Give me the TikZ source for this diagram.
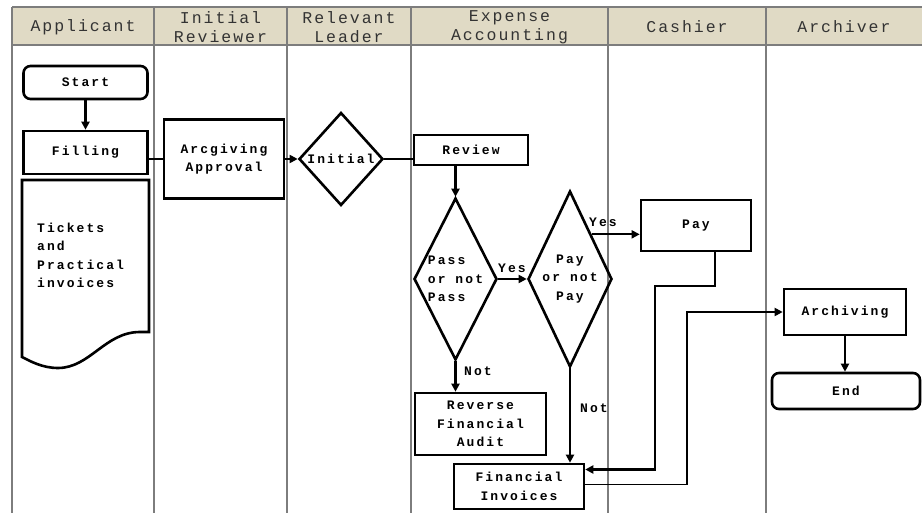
\documentclass[tikz,border=0pt]{standalone}
\usepackage{fontspec}
\usetikzlibrary{shapes.geometric,arrows.meta}
\newfontfamily\lanefont[LetterSpace=12]{Liberation Mono}
\newfontfamily\boxfont[LetterSpace=16]{Liberation Mono}
\definecolor{headtan}{RGB}{224,218,197}
\definecolor{lanegray}{RGB}{125,125,125}

\begin{document}
\begin{tikzpicture}[x=1pt,y=-1pt,
  >={Triangle[length=8pt,width=8pt]},
  lane/.style={draw=lanegray,line width=1.6pt},
  lanetitle/.style={font=\lanefont\fontsize{16.5}{19}\selectfont,text=black!80,align=center},
  boxtext/.style={font=\boxfont\bfseries\fontsize{13}{18.5}\selectfont,align=center,inner sep=0pt},
  box/.style={boxtext,draw,line width=2.6pt},
  term/.style={box,rounded corners=7pt},
  choice/.style={draw,diamond,line width=2.6pt,inner sep=0pt},
  flow/.style={line width=2.6pt,->},
  thin/.style={line width=1.8pt},
  tag/.style={boxtext}]
\useasboundingbox (0,0) rectangle (922,513);

% swimlanes
\fill[headtan] (12,7) rectangle (922,45);
\draw[lane] (12,7) -- (922,7) (12,45) -- (922,45);
\foreach \x in {12,154,287,411,608,766}
  \draw[lane] (\x,7) -- (\x,513);
\node[lanetitle] (tapp) at (83,27) {Applicant};
\node[lanetitle] (trev) at (220.5,27) {Initial\\Reviewer};
\node[lanetitle] (tlead) at (349,27) {Relevant\\Leader};
\node[lanetitle] (tacc) at (509.5,27) {Expense\\Accounting};
\node[lanetitle] (tcash) at (687,27) {Cashier};
\node[lanetitle] (tarch) at (844,27) {Archiver};

% applicant
\node[term, minimum width=124, minimum height=33] (start) at (85.5,82.5) {Start};
\node[box, minimum width=124, minimum height=43] (fill) at (85.5,152.5) {Filling};
\draw[line width=2.6pt] (22,180) -- (149,180) -- (149,332) -- (140,332)
  .. controls (105,332) and (90,368) .. (58,368)
  .. controls (42,368) and (30,361) .. (22,357) -- cycle;
\node[boxtext, align=left, anchor=west] (tick) at (37,255.5) {Tickets\\and\\Practical\\invoices};

% reviewer and leader
\node[box, minimum width=120, minimum height=79] (arcg) at (224,159) {Arcgiving\\Approval};
\node[choice, minimum width=84, minimum height=93] (init) at (341,159) {};
\node[boxtext] (tinit) at (init) {Initial};

% accounting
\node[box, minimum width=114, minimum height=30] (review) at (471,150) {Review};
\node[choice, minimum width=83, minimum height=162] (pass) at (455.5,279) {};
\node[boxtext, align=left] (tpass) at (pass) {Pass\\or not\\Pass};
\node[choice, minimum width=84, minimum height=176] (paydec) at (570,279) {};
\node[boxtext] (tpaydec) at (paydec) {Pay\\or not\\Pay};
\node[box, minimum width=131, minimum height=62] (reverse) at (480.5,424) {Reverse\\Financial\\Audit};
\node[box, minimum width=130, minimum height=45] (fininv) at (519,486.5) {Financial\\Invoices};

% cashier and archiver
\node[box, minimum width=110, minimum height=51] (pay) at (696,225.5) {Pay};
\node[box, minimum width=122, minimum height=46] (arch) at (845,312) {Archiving};
\node[term, minimum width=148, minimum height=36] (end) at (846,391) {End};

\coordinate (bendA) at (655,286);
\coordinate (bendB) at (687,312);

\draw[flow] (start) -- (fill);
\draw[thin] (fill.east |- arcg.west) -- (arcg.west);
\draw[thin,->] (arcg.east) -- (init.west);
\draw[thin] (init.east) -- (init.east -| review.west);
\draw[flow] (review.south -| pass.north) -- (pass.north);
\draw[thin,->] (pass.east) -- (paydec.west);
\node[tag] (yes1) at (512,268) {Yes};
\draw[thin,->] (paydec.north east) -- (paydec.north east -| pay.west);
\node[tag] (yes2) at (603,222) {Yes};
\draw[flow] (pass.south) -- (pass.south |- reverse.north);
\node[tag] (not1) at (478,371) {Not};
\draw[flow] (paydec.south) -- (paydec.south |- fininv.north);
\node[tag] (not2) at (594,408) {Not};
\draw[flow] ([xshift=19pt]pay.south) |- (bendA) |- ([yshift=17pt]fininv.east);
\draw[thin,->] ([yshift=2pt]fininv.east) -| (bendB) -- (arch.west);
\draw[flow] (arch.south) -- (arch.south |- end.north);
\end{tikzpicture}
\end{document}
